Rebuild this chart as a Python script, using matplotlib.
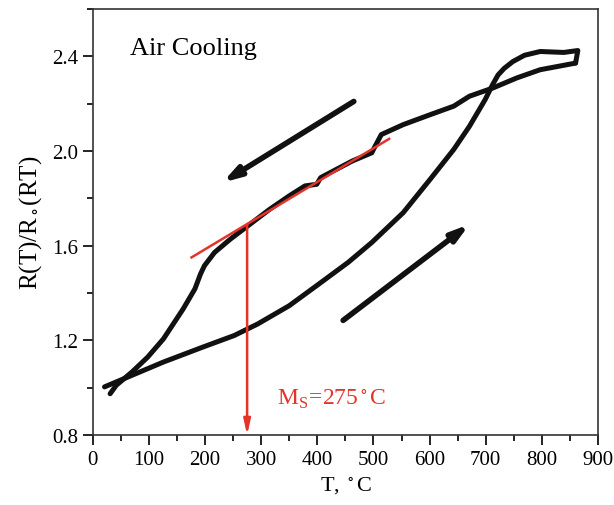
import numpy as np
import matplotlib
matplotlib.use("Agg")
import matplotlib.pyplot as plt
from matplotlib.ticker import MultipleLocator

plt.rcParams["font.family"] = ["Liberation Serif", "DejaVu Serif"]
plt.rcParams["mathtext.fontset"] = "stix"

# heating branch (lower)
heat_T = [21, 70, 126, 196, 252, 294, 350, 399, 455, 497, 553, 601, 643,
          671, 699, 712, 722, 733, 748, 769, 797, 839, 864, 860]
heat_R = [1.004, 1.053, 1.109, 1.172, 1.221, 1.270, 1.347, 1.432, 1.530,
          1.614, 1.740, 1.881, 2.007, 2.105, 2.218, 2.280, 2.322, 2.350,
          2.378, 2.405, 2.421, 2.417, 2.425, 2.372]

# cooling branch (upper)
cool_T = [860, 797, 755, 713, 671, 643, 601, 553, 514, 503, 497, 462, 434,
          406, 399, 378, 350, 315, 280, 245, 217, 199, 192, 182, 161, 126,
          98, 70, 42, 31]
cool_R = [2.372, 2.344, 2.309, 2.267, 2.232, 2.190, 2.154, 2.112, 2.070,
          2.021, 1.993, 1.958, 1.923, 1.888, 1.860, 1.853, 1.811, 1.754,
          1.691, 1.628, 1.572, 1.516, 1.481, 1.418, 1.333, 1.207, 1.130,
          1.067, 1.011, 0.975]

tangent_T = [176, 528]
tangent_R = [1.551, 2.052]
Ms = 275
Ms_R = 1.69

cool_arrow = [(465, 2.21), (231, 1.867)]
heat_arrow = [(446, 1.285), (671, 1.691)]

RED = "#e5332a"

fig = plt.figure(figsize=(6.14, 5.06), dpi=100)
ax = fig.add_axes([0.151, 0.138, 0.823, 0.842])

ax.plot(heat_T, heat_R, color="#111111", lw=3.6, solid_joinstyle="round",
        solid_capstyle="round")
ax.plot(cool_T, cool_R, color="#111111", lw=3.6, solid_joinstyle="round",
        solid_capstyle="round")

ax.plot(tangent_T, tangent_R, color=RED, lw=1.8)
ax.annotate("", xy=(Ms, 0.8), xytext=(Ms, Ms_R),
            arrowprops=dict(arrowstyle="-|>,head_length=0.9,head_width=0.2",
                            color=RED, lw=1.8, shrinkA=0, shrinkB=0))

for (x0, y0), (x1, y1) in [cool_arrow, heat_arrow]:
    ax.annotate("", xy=(x1, y1), xytext=(x0, y0),
                arrowprops=dict(arrowstyle="-|>,head_length=1.0,head_width=0.3",
                                color="#111111", lw=4, shrinkA=0, shrinkB=0,
                                capstyle="round"))

ax.text(329, 0.955, r"M$_\mathregular{S}$=275$^\circ$C", color=RED,
        fontsize=17, va="center", ha="left")
ax.text(66, 2.435, "Air Cooling", fontsize=19, va="center", ha="left")

ax.set_xlim(0, 900)
ax.set_ylim(0.8, 2.6)
ax.xaxis.set_major_locator(MultipleLocator(100))
ax.xaxis.set_minor_locator(MultipleLocator(50))
ax.yaxis.set_minor_locator(MultipleLocator(0.2))
ax.set_yticks([0.8, 1.2, 1.6, 2.0, 2.4])
ax.set_yticklabels(["0.8", "1.2", "1.6", "2.0", "2.4"])
ax.tick_params(which="major", direction="out", length=7, width=1.2,
               labelsize=15, top=False, right=False)
ax.tick_params(which="minor", direction="out", length=4, width=1.2,
               top=False, right=False)
for s in ax.spines.values():
    s.set_linewidth(1.2)
    s.set_color("#333333")

ax.set_xlabel(r"T, $^\circ$C", fontsize=16, labelpad=4)
ax.set_ylabel(r"R(T)/R$_\circ$(RT)", fontsize=18, labelpad=6)

fig.savefig("out.png", dpi=100)
